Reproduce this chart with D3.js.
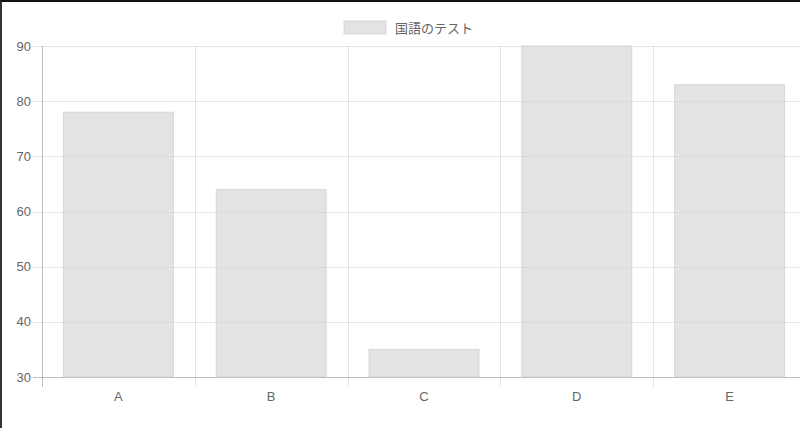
<!DOCTYPE html>
<html>
<head>
<meta charset="utf-8">
<script src="https://cdn.jsdelivr.net/npm/d3@7"></script>
<style>
  html, body { margin: 0; padding: 0; background: #fff; }
  body { width: 800px; height: 428px; overflow: hidden; box-sizing: border-box;
         border-top: 2px solid #111; border-left: 2px solid #333; }
  svg { display: block; }
</style>
</head>
<body>
<div id="chart"></div>
<script>
const categories = ["A", "B", "C", "D", "E"];
const scores = [78, 64, 35, 90, 83];
const yTicks = [30, 40, 50, 60, 70, 80, 90];
const seriesName = "国語のテスト";

const font = "'Helvetica Neue', Helvetica, Arial, 'Liberation Sans', sans-serif";
const textColor = "#666";

// plot area in page pixels (svg is offset by the 2px body border)
let margin = {top: 44, left: 40},
    width = 764,
    height = 331;

let svg = d3.select("#chart")
        .append("svg")
        .attr("width", 850)
        .attr("height", 426);

let g = svg.append("g")
        .attr("transform", "translate(" + margin.left + "," + margin.top + ")");

let x = d3.scaleBand()
        .domain(categories)
        .range([0, width]);

let y = d3.scaleLinear()
        .domain([30, 90])
        .range([height, 0]);

// horizontal grid
g.selectAll(".hgrid")
        .data(yTicks)
        .enter()
        .append("line")
        .attr("x1", -9)
        .attr("x2", width)
        .attr("y1", d => Math.round(y(d)) + 0.5)
        .attr("y2", d => Math.round(y(d)) + 0.5)
        .attr("stroke", d => d === 30 ? "rgba(0,0,0,0.25)" : "rgba(0,0,0,0.1)");

// vertical grid (category boundaries)
let bounds = categories.map(c => x(c)).concat([width]);
g.selectAll(".vgrid")
        .data(bounds)
        .enter()
        .append("line")
        .attr("x1", d => Math.round(d) + 0.5)
        .attr("x2", d => Math.round(d) + 0.5)
        .attr("y1", 0)
        .attr("y2", height + 10)
        .attr("stroke", (d, i) => i === 0 ? "rgba(0,0,0,0.25)" : "rgba(0,0,0,0.1)");

// bars
let barW = x.bandwidth() * 0.72;
g.selectAll(".bar")
        .data(scores)
        .enter()
        .append("rect")
        .attr("x", (d, i) => x(categories[i]) + (x.bandwidth() - barW) / 2)
        .attr("y", d => y(d))
        .attr("width", barW)
        .attr("height", d => y(30) - y(d))
        .attr("fill", "rgba(215,215,215,0.7)")
        .attr("stroke", "rgba(200,200,200,0.6)")
        .attr("stroke-width", 1);

// y labels
g.selectAll(".ylab")
        .data(yTicks)
        .enter()
        .append("text")
        .attr("x", -11)
        .attr("y", d => y(d))
        .attr("dy", "0.35em")
        .attr("text-anchor", "end")
        .style("font-family", font)
        .style("font-size", "13px")
        .style("fill", textColor)
        .text(d => d);

// x labels
g.selectAll(".xlab")
        .data(categories)
        .enter()
        .append("text")
        .attr("x", d => x(d) + x.bandwidth() / 2)
        .attr("y", height + 24)
        .attr("text-anchor", "middle")
        .style("font-family", font)
        .style("font-size", "13px")
        .style("fill", textColor)
        .text(d => d);

// legend
let legend = svg.append("g");
legend.append("rect")
        .attr("x", 342)
        .attr("y", 19)
        .attr("width", 42)
        .attr("height", 13)
        .attr("fill", "rgba(215,215,215,0.7)")
        .attr("stroke", "rgba(200,200,200,0.6)");
legend.append("text")
        .attr("x", 393)
        .attr("y", 26)
        .attr("dy", "0.35em")
        .style("font-family", "'Noto Sans CJK JP', sans-serif")
        .style("font-size", "13px")
        .style("fill", textColor)
        .text(seriesName);
</script>
</body>
</html>
